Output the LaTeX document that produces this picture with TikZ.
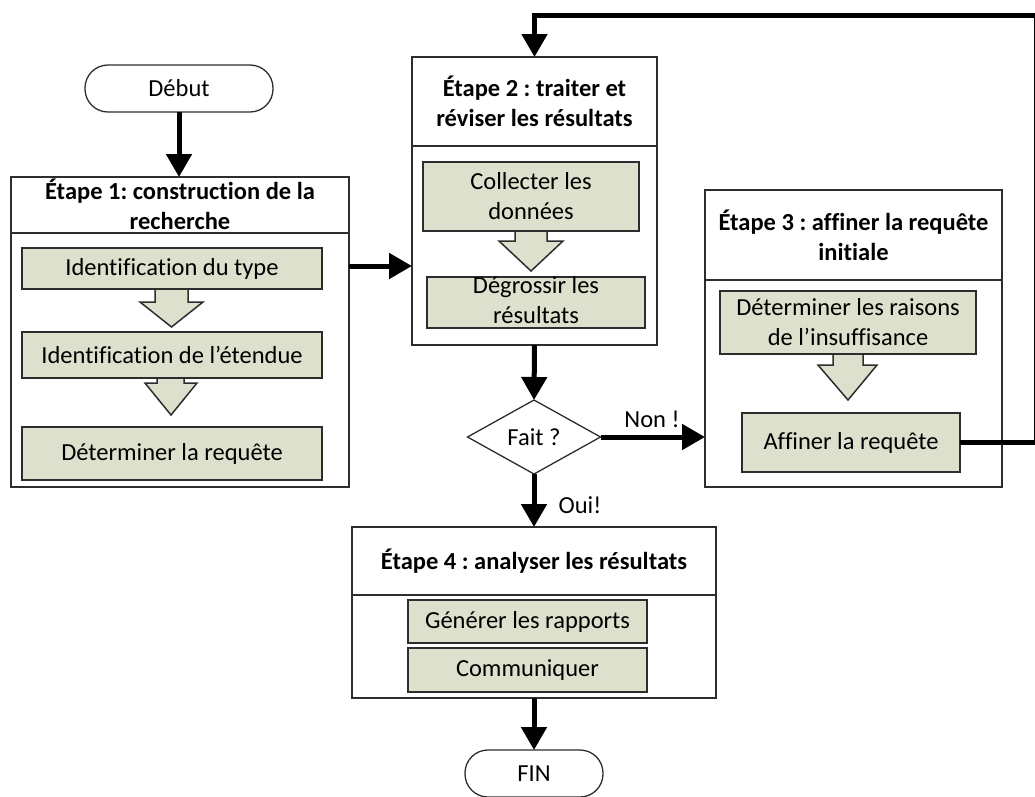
\documentclass[tikz,border=0pt]{standalone}
\usepackage{fontspec}
\setmainfont{Carlito}[Ligatures=CommonOff]
\usetikzlibrary{arrows.meta,shapes.geometric,calc}
\definecolor{gfill}{RGB}{221,224,204}
\definecolor{bline}{RGB}{45,45,45}
\frenchspacing
\begin{document}
\begin{tikzpicture}[x=1pt,y=-1pt,
  every node/.style={font=\fontsize{24.5}{30}\selectfont, inner sep=0pt, outer sep=0pt},
  frame/.style={draw=bline, line width=1.6pt, fill=white, rectangle},
  gbox/.style={draw=bline, line width=1.8pt, fill=gfill, rectangle, align=center},
  hdrtxt/.style={font=\fontsize{24.5}{30}\selectfont\bfseries, align=center},
  term/.style={draw=bline, line width=1.3pt, fill=white, rounded corners=23pt, rectangle},
  conn/.style={line width=5pt, black, -{Triangle[length=23pt,width=25pt]}},
  barrow/.style={draw=bline, line width=1.5pt, fill=gfill, line join=miter}
]
\useasboundingbox (0,0) rectangle (1035,796);

% terminals
\node[term, minimum width=188, minimum height=47] (debut) at (179,88.5) {Début};
\node[term, minimum width=138, minimum height=47] (fin) at (534,773.5) {FIN};

% Etape 1
\node[frame, minimum width=338, minimum height=56] (h1) at (180,205) {};
\node[frame, minimum width=338, minimum height=254] (b1) at (180,360) {};
\node[hdrtxt] (t1) at (180,204) {Étape 1: construction de la\\recherche};

% Etape 2
\node[frame, minimum width=245, minimum height=89] (h2) at (534.5,101.5) {};
\node[frame, minimum width=245, minimum height=199] (b2) at (534.5,245.5) {};
\node[hdrtxt] (t2) at (h2) {Étape 2 : traiter et\\réviser les résultats};

% Etape 3
\node[frame, minimum width=297, minimum height=90] (h3) at (853.5,235) {};
\node[frame, minimum width=297, minimum height=207] (b3) at (853.5,383.5) {};
\node[hdrtxt] (t3) at (h3) {Étape 3 : affiner la requête\\initiale};

% Etape 4
\node[frame, minimum width=364, minimum height=68] (h4) at (534,561) {};
\node[frame, minimum width=364, minimum height=103] (b4) at (534,646.5) {};
\node[hdrtxt] (t4) at (h4) {Étape 4 : analyser les résultats};

% block arrows
\draw[barrow] (155,289) -- (155,302) -- (140,302) -- (171.5,327) -- (203,302) -- (188,302) -- (188,289);
\draw[barrow] (157,378) -- (157,383) -- (145,383) -- (171,415) -- (197,383) -- (184,383) -- (184,378);
\draw[barrow] (515,231) -- (515,241) -- (499,241) -- (531,271) -- (563,241) -- (547,241) -- (547,231);
\draw[barrow] (833,354) -- (833,365) -- (818,365) -- (848,400) -- (877,365) -- (863,365) -- (863,354);

% green step boxes
\node[gbox, minimum width=300, minimum height=41] (g11) at (172,268.5) {Identification du type};
\node[gbox, minimum width=300, minimum height=46] (g12) at (172,355) {Identification de l’étendue};
\node[gbox, minimum width=300, minimum height=53] (g13) at (172,453.5) {Déterminer la requête};
\node[gbox, minimum width=216, minimum height=69] (g21) at (531,196.5) {Collecter les\\données};
\node[gbox, minimum width=218, minimum height=51] (g22) at (536,302.5) {};
\node[align=center] (g22t) at (536,300) {Dégrossir les\\résultats};
\node[gbox, minimum width=256, minimum height=63] (g31) at (848,322.5) {Déterminer les raisons\\de l’insuffisance};
\node[gbox, minimum width=218, minimum height=59] (g32) at (851,442.5) {Affiner la requête};
\node[gbox, minimum width=239, minimum height=43] (g41) at (527.5,621.5) {Générer les rapports};
\node[gbox, minimum width=239, minimum height=44] (g42) at (527.5,670) {Communiquer};

% decision
\node[diamond, draw=bline, line width=1.3pt, fill=white, minimum width=133, minimum height=74] (fait) at (534,437) {Fait ?};

% labels
\node (non) at (652,419) {Non !};
\node (oui) at (580,505) {Oui!};

% connectors
\coordinate (e12) at (349,266);
\coordinate (loopR) at (1036,15);
\draw[conn] (debut.south) -- (debut.south |- h1.north);
\draw[conn] (e12) -- (e12 -| b2.west);
\draw[conn] (b2.south) -- (fait.north);
\draw[conn] (fait.east) -- (fait.east -| b3.west);
\draw[conn] (fait.south) -- (h4.north);
\draw[conn] (b4.south) -- (fin.north);
\draw[conn, line join=miter] (g32.east) -- (g32.east -| loopR) -- (loopR) -- (loopR -| h2.north) -- (h2.north);
\end{tikzpicture}
\end{document}
